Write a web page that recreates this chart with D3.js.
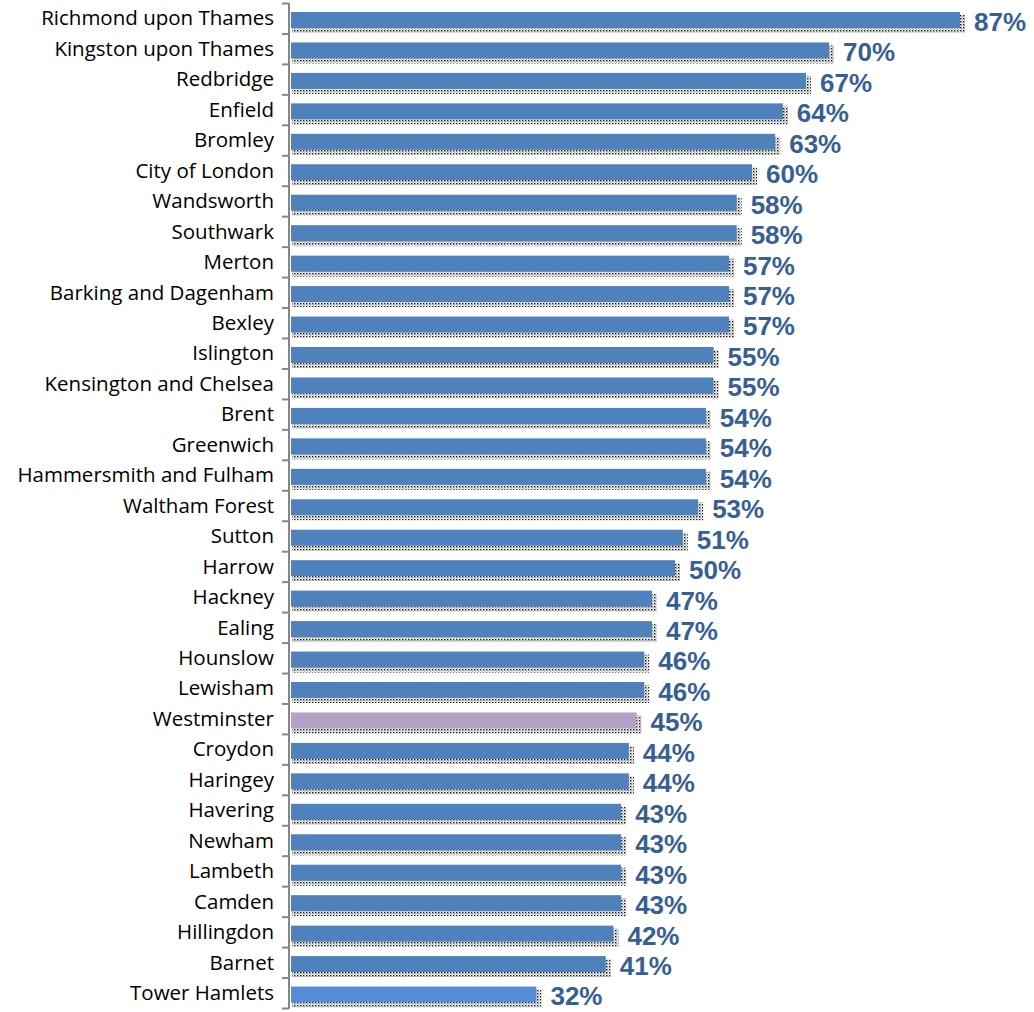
<!DOCTYPE html>
<html><head><meta charset="utf-8">
<script src="https://cdn.jsdelivr.net/npm/d3@7/dist/d3.min.js"></script>
<style>body{margin:0;background:#fff}</style>
</head><body>
<svg id="c" width="1034" height="1012"></svg>
<script>
const categories = ["Richmond upon Thames","Kingston upon Thames","Redbridge","Enfield","Bromley","City of London","Wandsworth","Southwark","Merton","Barking and Dagenham","Bexley","Islington","Kensington and Chelsea","Brent","Greenwich","Hammersmith and Fulham","Waltham Forest","Sutton","Harrow","Hackney","Ealing","Hounslow","Lewisham","Westminster","Croydon","Haringey","Havering","Newham","Lambeth","Camden","Hillingdon","Barnet","Tower Hamlets"];
const values = [87,70,67,64,63,60,58,58,57,57,57,55,55,54,54,54,53,51,50,47,47,46,46,45,44,44,43,43,43,43,42,41,32];
const highlight = {"Westminster": "#b3a2c7", "Tower Hamlets": "#558ed5"};

const svg = d3.select("#c");
const x0 = 290;
const x = d3.scaleLinear().domain([0, 87]).range([x0, 960]);
const band = d3.scaleBand().domain(categories).range([3.5, 1008.5]);
const bh = 16;
const barTop = d => band(d) + 8.5;

const defs = svg.append("defs");
const pat = defs.append("pattern").attr("id","dots").attr("width",3).attr("height",3).attr("patternUnits","userSpaceOnUse");
pat.append("rect").attr("x",0).attr("y",0).attr("width",1.4).attr("height",1.4).attr("fill","#000");
pat.append("rect").attr("x",1.5).attr("y",1.5).attr("width",1).attr("height",1).attr("fill","#333");

const g = svg.append("g");
g.selectAll("rect.sh").data(categories).join("rect").attr("class","sh")
  .attr("x", x0 + 2)
  .attr("y", d => barTop(d) + 3)
  .attr("width", (d,i) => x(values[i]) - x0 + 3)
  .attr("height", bh + 2)
  .attr("fill", "url(#dots)").attr("opacity", 0.95);
g.selectAll("rect.b").data(categories).join("rect").attr("class","b")
  .attr("x", x0 + 1)
  .attr("y", d => barTop(d))
  .attr("width", (d,i) => x(values[i]) - x0 - 1)
  .attr("height", bh)
  .attr("fill", d => highlight[d] || "#4f81bd");

// axis
const ax = svg.append("g").attr("transform", `translate(${x0-1},0)`)
  .call(d3.axisLeft(band).tickSize(0).tickFormat(""));
ax.select(".domain").remove();
ax.append("line").attr("x1",0).attr("x2",0).attr("y1",3.5).attr("y2",1008.5).attr("stroke","#868686").attr("stroke-width",2);
const bounds = categories.map(c => band(c)).concat([1008.5]);
ax.selectAll("line.t").data(bounds).join("line").attr("class","t")
  .attr("x1",-7).attr("x2",0).attr("y1",d=>d).attr("y2",d=>d)
  .attr("stroke","#868686").attr("stroke-width",2);

// category labels
svg.append("g").selectAll("text").data(categories).join("text")
  .attr("x", 274)
  .attr("y", d => barTop(d) + bh/2)
  .attr("text-anchor","end").attr("dominant-baseline","middle")
  .attr("font-family","'Open Sans', sans-serif").attr("font-size",20.5).attr("fill","#000")
  .text(d => d);

// value labels
svg.append("g").selectAll("text").data(categories).join("text")
  .attr("x", (d,i) => x(values[i]) + 14)
  .attr("y", d => barTop(d) + bh/2 + 4)
  .attr("dominant-baseline","middle")
  .attr("font-family","'Liberation Sans', Arial, sans-serif").attr("font-weight","bold").attr("font-size",26)
  .attr("fill","#376092")
  .text((d,i) => values[i] + "%");
</script>
</body></html>
